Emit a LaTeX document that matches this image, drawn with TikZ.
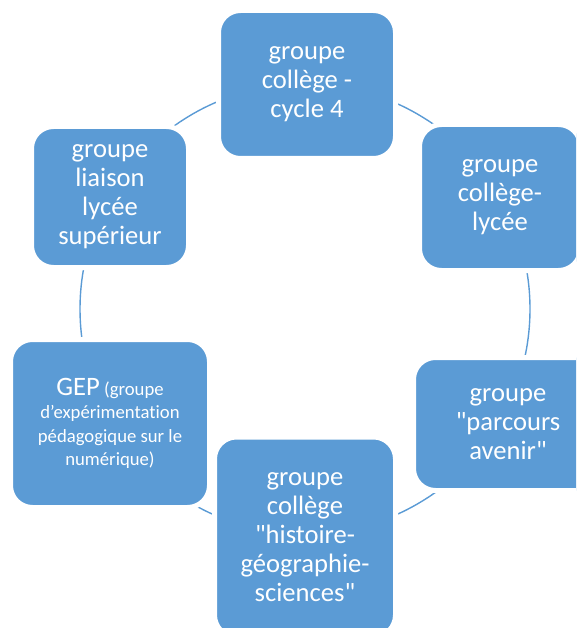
\documentclass[tikz,border=0pt]{standalone}
\usepackage{fontspec}
\usepackage{tikz}
\newfontfamily\boxfont[Ligatures=CommonOff]{Carlito}
\definecolor{accent}{HTML}{5B9BD5}
\tikzset{
  ring/.style={draw=accent, line width=1.4pt},
  grp/.style={rectangle, rounded corners=22pt, fill=accent, draw=white, line width=5pt,
    text=white, align=center, inner sep=0pt, font=\boxfont\fontsize{26.6}{29}\selectfont},
  grps/.style={grp, font=\boxfont\fontsize{18.7}{23.5}\selectfont},
}

\begin{document}
\begin{tikzpicture}[x=1pt, y=-1pt]
  \useasboundingbox (0,0) rectangle (576,628);
  \clip (0,0) rectangle (576,628);
  % ring behind the boxes
  \coordinate (O) at (305,309);
  \def\r{225}
  \draw[ring] (O) circle (\r);
  \node[grp, minimum width=177, minimum height=148] (C4) at (307,84.5) {groupe\\collège -\\cycle 4};
  \node[grp, minimum width=161, minimum height=146] (CL) at (500,197.5) {groupe\\collège-\\lycée};
  \node[grp, minimum width=189, minimum height=133] (PA) at (508,424) {groupe\\"parcours\\avenir"};
  \node[grp, minimum width=181, minimum height=200] (HG) at (305,537) {groupe\\collège\\"histoire-\\géographie-\\sciences"};
  \node[grps, minimum width=199, minimum height=168] (GEP) at (110,423.5)
    {{\fontsize{26.6}{29}\selectfont GEP} (groupe\\d’expérimentation\\pédagogique sur le\\numérique)};
  \node[grp, minimum width=157, minimum height=141] (LS) at (110,197) {groupe\\liaison\\lycée\\supérieur};
\end{tikzpicture}
\end{document}
